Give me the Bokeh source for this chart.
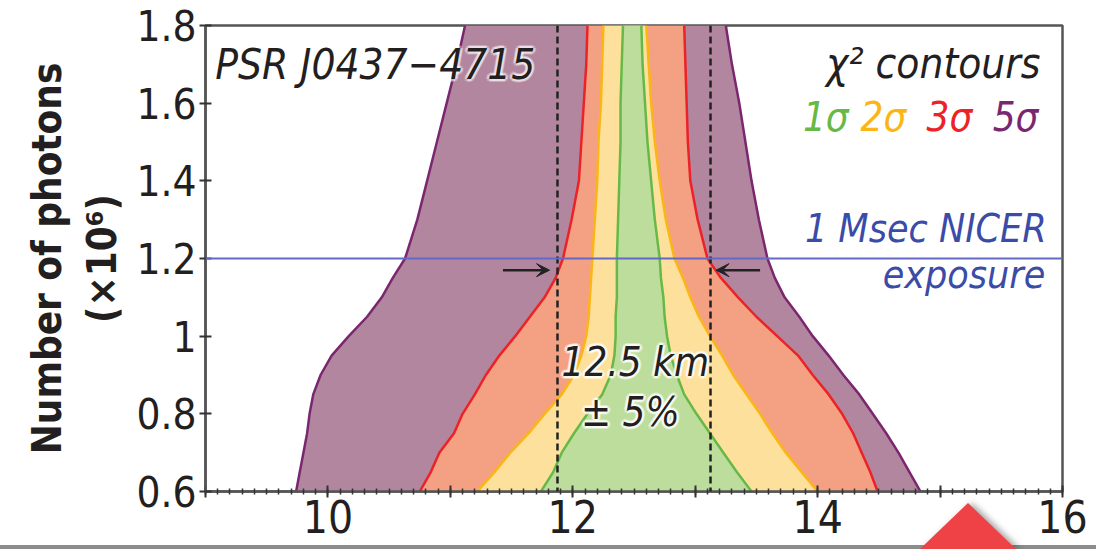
import numpy as np
from bokeh.plotting import figure
from bokeh.models import FixedTicker, Span, Arrow, VeeHead, Label
from bokeh.embed import file_html
from bokeh.resources import INLINE

# ---------------- data ----------------
photons = [0.6, 0.65, 0.7, 0.75, 0.8, 0.85, 0.9, 0.95, 1.0, 1.05, 1.1, 1.15,
           1.2, 1.3, 1.4, 1.5, 1.6, 1.7, 1.8]  # x10^6

s5_left = [9.74, 9.77, 9.80, 9.83, 9.85, 9.88, 9.94, 10.03, 10.17, 10.32, 10.44,
           10.53, 10.63, 10.73, 10.81, 10.89, 10.97, 11.05, 11.12]
s5_right = [14.84, 14.75, 14.66, 14.56, 14.45, 14.34, 14.21, 14.09, 13.96, 13.85,
            13.73, 13.65, 13.59, 13.52, 13.46, 13.41, 13.36, 13.30, 13.25]
s3_left = [10.75, 10.84, 10.91, 11.03, 11.10, 11.20, 11.29, 11.40, 11.53, 11.65,
           11.77, 11.86, 11.92, 11.99, 12.05, 12.07, 12.09, 12.11, 12.12]
s3_right = [14.49, 14.43, 14.36, 14.29, 14.20, 14.09, 13.96, 13.84, 13.67, 13.50,
            13.35, 13.21, 13.10, 13.02, 12.96, 12.94, 12.93, 12.92, 12.91]
s2_left = [11.22, 11.36, 11.49, 11.64, 11.77, 11.91, 12.01, 12.07, 12.11, 12.13,
           12.14, 12.15, 12.16, 12.18, 12.20, 12.21, 12.23, 12.24, 12.25]
s2_right = [14.00, 13.87, 13.74, 13.63, 13.53, 13.42, 13.31, 13.22, 13.12, 13.03,
            12.96, 12.90, 12.83, 12.76, 12.71, 12.67, 12.64, 12.62, 12.60]
s1_left = [11.74, 11.84, 11.91, 12.01, 12.12, 12.24, 12.31, 12.34, 12.35, 12.35,
           12.36, 12.36, 12.36, 12.37, 12.38, 12.39, 12.39, 12.40, 12.41]
s1_right = [13.46, 13.34, 13.23, 13.12, 13.01, 12.91, 12.85, 12.80, 12.77, 12.75,
            12.74, 12.72, 12.71, 12.67, 12.64, 12.61, 12.59, 12.57, 12.56]

radius_center = 12.5     # km
radius_tol = 0.05        # +-5%
exposure = 1.2           # 1 Msec NICER exposure, x10^6 photons

x_ticks = [9, 10, 11, 12, 13, 14, 15, 16]
x_labels = {9: "", 10: "10", 11: "", 12: "12", 13: "", 14: "14", 15: "", 16: "16"}
y_ticks = [0.6, 0.8, 1.0, 1.2, 1.4, 1.6, 1.8]
y_labels = {0.6: "0.6", 0.8: "0.8", 1.0: "1", 1.2: "1.2", 1.4: "1.4", 1.6: "1.6", 1.8: "1.8"}

# ---------------- style ----------------
FONT = "'Liberation Sans Narrow', 'DejaVu Sans Condensed', 'Liberation Sans', sans-serif"
SHIFT = 18  # px upward nudge of annotation baselines
layers = [
    (s5_left, s5_right, "#b3869f", "#7a2770"),
    (s3_left, s3_right, "#f4a082", "#ec2227"),
    (s2_left, s2_right, "#fde09b", "#fbb616"),
    (s1_left, s1_right, "#bddd9d", "#66b946"),
]

p = figure(width=1096, height=545, x_range=(9, 16), y_range=(0.6, 1.8),
           output_backend="svg", toolbar_location=None,
           min_border_left=205, min_border_right=34, min_border_top=25,
           min_border_bottom=54)
p.grid.visible = False
p.outline_line_color = "#555555"
p.outline_line_width = 2.5
p.border_fill_color = "white"

for left, right, fill, stroke in layers:
    xs = list(left) + list(right)[::-1]
    ys = list(photons) + list(photons)[::-1]
    p.patch(xs, ys, fill_color=fill, line_color=None)
    p.line(left, photons, line_color=stroke, line_width=2.5)
    p.line(right, photons, line_color=stroke, line_width=2.5)

# dashed radius bounds
for loc in (radius_center * (1 - radius_tol), radius_center * (1 + radius_tol)):
    p.add_layout(Span(location=loc, dimension="height", line_color="#222222",
                      line_width=2.5, line_dash="7 4"))

# exposure line
p.add_layout(Span(location=exposure, dimension="width", line_color="#6468c6",
                  line_width=2))

# arrows
p.add_layout(Arrow(end=VeeHead(size=13, fill_color="#222222", line_color="#222222"),
                   x_start=11.43, y_start=1.17, x_end=11.81, y_end=1.17,
                   line_width=2.5, line_color="#222222"))
p.add_layout(Arrow(end=VeeHead(size=13, fill_color="#222222", line_color="#222222"),
                   x_start=13.53, y_start=1.17, x_end=13.17, y_end=1.17,
                   line_width=2.5, line_color="#222222"))


def halo_label(text, x, y, size, align="left", color="#231f20", halo_alpha=0.35):
    for dx, dy in [(-2, 0), (2, 0), (0, -2), (0, 2), (-2, -2), (2, 2), (-2, 2), (2, -2),
                   (-3, 0), (3, 0), (0, 3), (0, -3)]:
        p.add_layout(Label(x=x, y=y, x_offset=dx, y_offset=dy + SHIFT, text=text,
                           text_font=FONT, text_font_size=size,
                           text_font_style="italic", text_align=align,
                           text_baseline="alphabetic", text_color="white",
                           text_alpha=halo_alpha))
    p.add_layout(Label(x=x, y=y, y_offset=SHIFT, text=text, text_font=FONT,
                       text_font_size=size, text_font_style="italic",
                       text_align=align, text_baseline="alphabetic",
                       text_color=color))


def plain_label(text, x, y, size, align="left", color="#231f20"):
    p.add_layout(Label(x=x, y=y, y_offset=SHIFT, text=text, text_font=FONT,
                       text_font_size=size, text_font_style="italic",
                       text_align=align, text_baseline="alphabetic",
                       text_color=color))


halo_label("PSR J0437\u22124715", 9.08, 1.654, "42px", halo_alpha=0.3)
halo_label("12.5 km", 12.51, 0.888, "40px", align="center", halo_alpha=0.45)
halo_label("\u00b1 5%", 12.47, 0.758, "40px", align="center", halo_alpha=0.45)

plain_label("\u03c7\u00b2 contours", 15.82, 1.657, "42px", align="right")
for txt, xx, col in [("1\u03c3", 13.88, "#66b946"), ("2\u03c3", 14.35, "#fbb616"),
                     ("3\u03c3", 14.89, "#ec2227"), ("5\u03c3", 15.43, "#7a2770")]:
    plain_label(txt, xx, 1.517, "40px", color=col)
plain_label("1 Msec NICER", 15.87, 1.232, "39px", align="right", color="#3a4ba8")
plain_label("exposure", 15.86, 1.113, "39px", align="right", color="#3a4ba8")

# axes
p.xaxis.ticker = FixedTicker(ticks=x_ticks,
                             minor_ticks=list(np.round(np.arange(9, 16.001, 0.1), 2)))
p.xaxis.major_label_overrides = x_labels
p.yaxis.ticker = FixedTicker(ticks=y_ticks, minor_ticks=[])
p.yaxis.major_label_overrides = y_labels

for ax in (p.xaxis[0], p.yaxis[0]):
    ax.axis_line_color = "#555555"
    ax.axis_line_width = 2.5
    ax.major_tick_line_color = "#333333"
    ax.major_tick_line_width = 2
    ax.major_tick_in = 6
    ax.major_tick_out = 6
    ax.minor_tick_line_color = "#333333"
    ax.minor_tick_line_width = 1.5
    ax.minor_tick_in = 3
    ax.minor_tick_out = 3
    ax.major_label_text_font = FONT
    ax.major_label_text_font_size = "42px"
    ax.major_label_text_color = "#231f20"

p.xaxis.major_label_text_font_size = "44px"
p.xaxis.major_label_standoff = 2
p.yaxis.major_label_standoff = 3
p.yaxis.axis_label = "Number of photons\n(\u00d710\u2076)"
p.yaxis.axis_label_text_font = FONT
p.yaxis.axis_label_text_font_size = "40px"
p.yaxis.axis_label_text_font_style = "bold"
p.yaxis.axis_label_text_color = "#231f20"
p.yaxis.axis_label_standoff = 8

# page edge (grey rule along the bottom and a red corner tab, as in the cropped source)
TEMPLATE = """{% block postamble %}
<style>
html, body { margin: 0; padding: 0; overflow: hidden;
  background: linear-gradient(to bottom, #ffffff 0, #ffffff 545px, #8c8c8c 545px, #8c8c8c 549px); }
#tabwrap { position: absolute; left: 920px; top: 503px; width: 100px; height: 46px;
  z-index: 10; filter: drop-shadow(4px 0 3px rgba(0,0,0,0.35)); pointer-events: none; }
#tab { width: 96px; height: 46px; background: #ef4246;
  clip-path: polygon(50% 0, 100% 100%, 0 100%); }
</style>
{% endblock %}
{% block contents %}
{{ super() }}
<div id="tabwrap"><div id="tab"></div></div>
{% endblock %}
"""
try:
    html = file_html(p, INLINE, template=TEMPLATE)
except Exception:
    html = file_html(p, INLINE)
open("out.html", "w").write(html)
